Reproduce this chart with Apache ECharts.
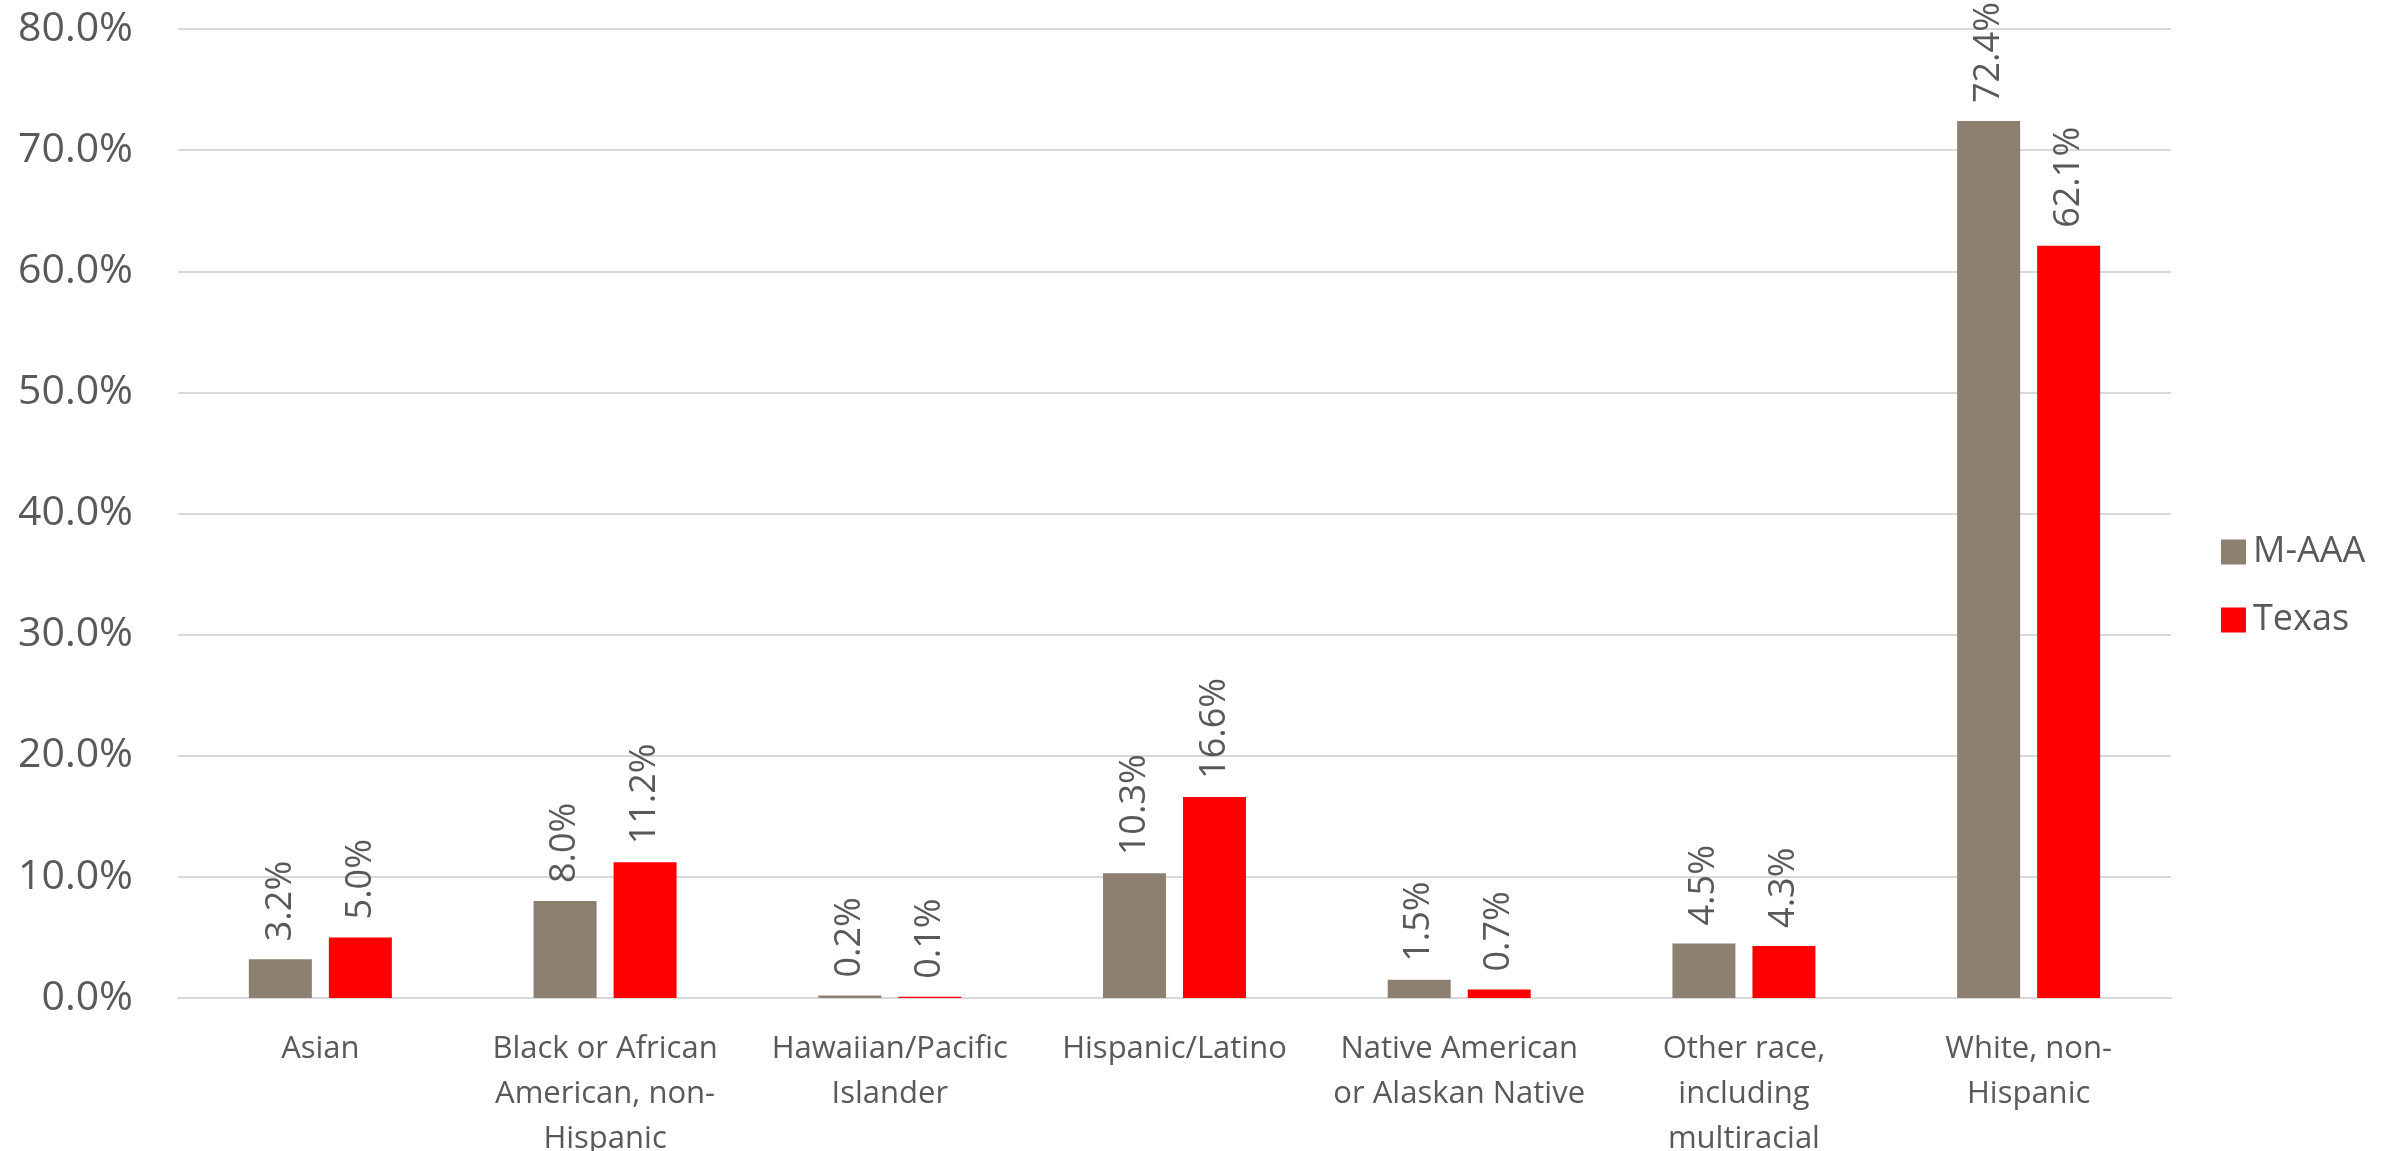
<!DOCTYPE html>
<html>
<head>
<meta charset="utf-8">
<script src="https://cdn.jsdelivr.net/npm/echarts@6/dist/echarts.min.js"></script>
<style>
  html, body { margin: 0; padding: 0; background: #fff; }
  #chart { width: 2402px; height: 1151px; }
</style>
</head>
<body>
<div id="chart"></div>
<script>
const categories = [
  'Asian',
  'Black or African\nAmerican, non-\nHispanic',
  'Hawaiian/Pacific\nIslander',
  'Hispanic/Latino',
  'Native American\nor Alaskan Native',
  'Other race,\nincluding\nmultiracial',
  'White, non-\nHispanic'
];
const maaaValues = [3.2, 8.0, 0.2, 10.3, 1.5, 4.5, 72.4];
const texasValues = [5.0, 11.2, 0.1, 16.6, 0.7, 4.3, 62.1];

const textColor = '#595959';
const font = '"Open Sans", sans-serif';

// label drawn vertically above each bar
const barLabel = {
  show: true,
  position: 'top',
  rotate: 90,
  align: 'left',
  verticalAlign: 'middle',
  distance: 18,
  color: textColor,
  fontFamily: font,
  fontSize: 36,
  formatter: p => p.value.toFixed(1) + '%'
};

const chart = echarts.init(document.getElementById('chart'));

chart.setOption({
  animation: false,
  grid: { left: 178, right: 231, top: 29, bottom: 153, containLabel: false, outerBoundsMode: 'none' },
  legend: {
    orient: 'vertical',
    left: 2216,
    top: 529,
    itemWidth: 25,
    itemHeight: 25,
    itemGap: 32,
    icon: 'rect',
    textStyle: { color: textColor, fontFamily: font, fontSize: 36, lineHeight: 36, padding: [0, 0, 0, 2] },
    data: ['M-AAA', 'Texas']
  },
  xAxis: {
    type: 'category',
    data: categories,
    axisTick: { show: false },
    axisLine: { lineStyle: { color: '#D9D9D9', width: 2 } },
    axisLabel: {
      color: textColor,
      fontFamily: font,
      fontSize: 31,
      lineHeight: 45,
      margin: 29,
      interval: 0
    }
  },
  yAxis: {
    type: 'value',
    min: 0,
    max: 80,
    interval: 10,
    axisLine: { show: false },
    axisTick: { show: false },
    splitLine: { lineStyle: { color: '#D9D9D9', width: 2 } },
    axisLabel: {
      color: textColor,
      fontFamily: font,
      fontSize: 41,
      margin: 45,
      formatter: v => v.toFixed(1) + '%'
    }
  },
  series: [
    {
      name: 'M-AAA',
      type: 'bar',
      data: maaaValues,
      barWidth: 63,
      barGap: '27%',
      itemStyle: { color: '#8D8070' },
      label: barLabel
    },
    {
      name: 'Texas',
      type: 'bar',
      data: texasValues,
      barWidth: 63,
      barGap: '27%',
      itemStyle: { color: '#FF0000' },
      label: barLabel
    }
  ]
});
</script>
</body>
</html>
